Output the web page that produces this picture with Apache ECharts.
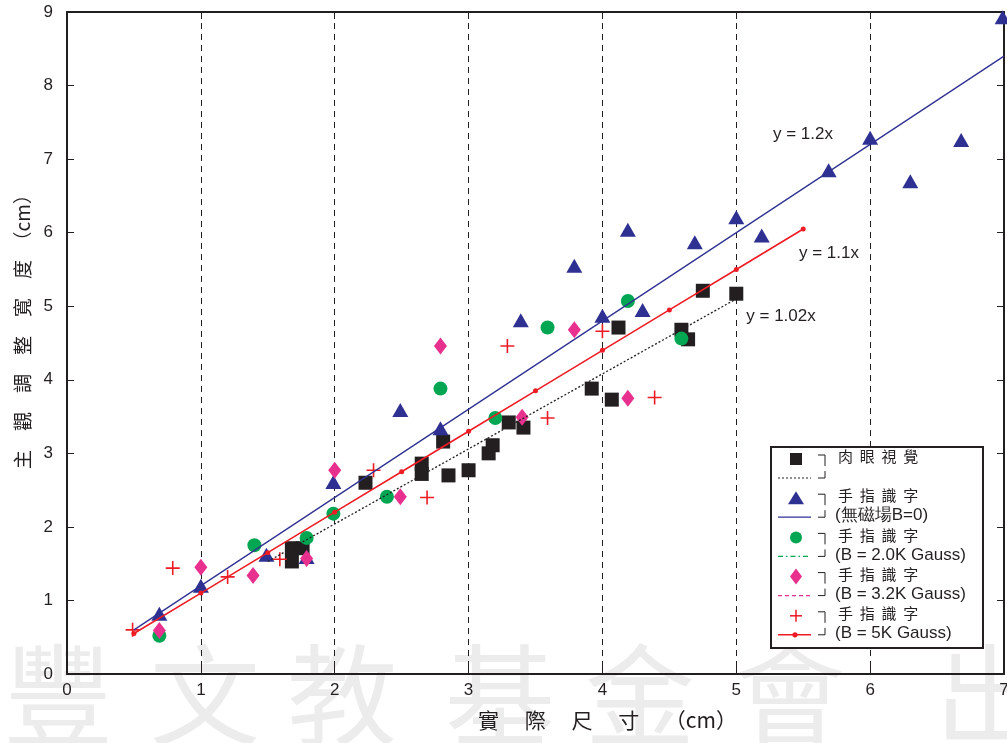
<!DOCTYPE html>
<html><head><meta charset="utf-8">
<script src="https://cdn.jsdelivr.net/npm/echarts@6/dist/echarts.min.js"></script>
<style>html,body{margin:0;padding:0;background:#fff;overflow:hidden}#c{width:1007px;height:743px}</style>
</head><body><div id="c"></div>
<script>
// ---- data (x = 實際尺寸 cm, y = 主觀調整寬度 cm) ----
const nakedEye = [[1.68,1.53],[1.68,1.71],[1.76,1.71],[2.23,2.60],[2.65,2.72],[2.65,2.86],[2.81,3.16],[2.85,2.70],[3.00,2.77],[3.15,3.00],[3.18,3.11],[3.30,3.42],[3.41,3.35],[3.92,3.88],[4.07,3.73],[4.12,4.71],[4.59,4.68],[4.64,4.55],[4.75,5.21],[5.00,5.17]];
const fingerB0 = [[0.69,0.82],[1.00,1.20],[1.49,1.62],[1.79,1.59],[1.99,2.61],[2.49,3.59],[2.79,3.34],[3.39,4.81],[3.79,5.55],[4.00,4.87],[4.19,6.04],[4.30,4.95],[4.69,5.87],[5.00,6.21],[5.19,5.96],[5.69,6.85],[6.00,7.29],[6.30,6.70],[6.68,7.26],[6.99,8.93]];
const fingerB20 = [[0.69,0.52],[1.40,1.75],[1.79,1.85],[1.99,2.18],[2.39,2.41],[2.79,3.88],[3.20,3.48],[3.59,4.71],[4.19,5.07],[4.59,4.56]];
const fingerB32 = [[0.69,0.59],[1.00,1.45],[1.39,1.34],[1.79,1.57],[2.00,2.77],[2.49,2.41],[2.79,4.46],[3.40,3.49],[3.79,4.68],[4.19,3.75]];
const fingerB5 = [[0.49,0.60],[0.79,1.44],[1.20,1.32],[1.59,1.56],[2.29,2.77],[2.69,2.40],[3.29,4.46],[3.59,3.48],[4.00,4.66],[4.39,3.76]];
const fit102 = [[1.5,1.53],[5.0,5.10]];
const fit12 = [[0.5,0.60],[7.0,8.40]];
const fit11 = [[0.5,0.55],[1.0,1.10],[1.5,1.65],[2.0,2.20],[2.5,2.75],[3.0,3.30],[3.5,3.85],[4.0,4.40],[4.5,4.95],[5.0,5.50],[5.5,6.05]];
const fitLabels = ['y = 1.2x','y = 1.1x','y = 1.02x'];
const legendLine1 = ['肉  眼  視  覺','手  指  識  字','手  指  識  字','手  指  識  字','手  指  識  字'];
const legendLine2 = ['','(無磁場B=0)','(B = 2.0K Gauss)','(B = 3.2K Gauss)','(B = 5K Gauss)'];
const xName = '實　 際　 尺　 寸　 （cm）';
const yName = '主　觀　調　整　寬　度　（cm）';
const watermark = ['豐','文','教','基','金','會','出'];

const C = {black:'#231f20', blue:'#2e3192', green:'#00a651', mag:'#e8308e', red:'#ed1c24'};
const plusPath = 'path://M0 6.2h14v1.6H0zM6.2 0h1.6v14H6.2z';
const latin = "'Liberation Sans', Arial, sans-serif";
const cjk = "'Noto Sans CJK TC', 'Noto Sans CJK SC', sans-serif";

const chart = echarts.init(document.getElementById('c'), null, {renderer:'canvas'});

// legend graphics
const g = [];
const wmX = [58,205,342,500,640,790,990];
watermark.forEach((ch,i)=>g.push({type:'text', z:-10, left:wmX[i]-55, top:640,
  style:{text:ch, font:"110px "+cjk, fill:'#ececec'}}));
g.push({type:'rect', z:100, shape:{x:771,y:447,width:212,height:201}, style:{fill:'#fff', stroke:C.black, lineWidth:2}});
for (let i=0;i<5;i++){
  const y1 = 459 + 39.2*i, y2 = 478 + 39.2*i;
  if (i===0) g.push({type:'rect', z:101, shape:{x:790,y:y1-6,width:12,height:12}, style:{fill:C.black}});
  if (i===1) g.push({type:'polygon', z:101, shape:{points:[[796,y1-7],[804,y1+6],[788,y1+6]]}, style:{fill:C.blue}});
  if (i===2) g.push({type:'circle', z:101, shape:{cx:796,cy:y1,r:6}, style:{fill:C.green}});
  if (i===3) g.push({type:'polygon', z:101, shape:{points:[[796,y1-8],[802,y1],[796,y1+8],[790,y1]]}, style:{fill:C.mag}});
  if (i===4) { g.push({type:'line', z:101, shape:{x1:790,y1:y1,x2:802,y2:y1}, style:{stroke:C.red,lineWidth:1.5}});
               g.push({type:'line', z:101, shape:{x1:796,y1:y1-6,x2:796,y2:y1+6}, style:{stroke:C.red,lineWidth:1.5}}); }
  const ls = [
    {stroke:C.black, lineWidth:1.2, lineDash:[2,2]},
    {stroke:C.blue, lineWidth:1.2},
    {stroke:C.green, lineWidth:1.2, lineDash:[5,3,1.5,3]},
    {stroke:C.mag, lineWidth:1.2, lineDash:[4,3]},
    {stroke:C.red, lineWidth:1.5}][i];
  g.push({type:'line', z:101, shape:{x1:778,y1:y2,x2:811,y2:y2}, style:ls});
  if (i===4) g.push({type:'circle', z:102, shape:{cx:795,cy:y2,r:2.6}, style:{fill:C.red}});
  g.push({type:'polyline', z:101, shape:{points:[[818,y1-4],[825,y1-4],[825,y1+7]]}, style:{stroke:C.black,lineWidth:1,fill:null}});
  g.push({type:'polyline', z:101, shape:{points:[[825,y2-7],[825,y2],[818,y2]]}, style:{stroke:C.black,lineWidth:1,fill:null}});
  g.push({type:'text', z:101, left:838, top:y1-10, style:{text:legendLine1[i], font:"15px "+cjk, fill:C.black}});
  if (legendLine2[i]) g.push({type:'text', z:101, left:835, top:y2-10, style:{text:legendLine2[i], font:"17px "+latin, fill:C.black}});
}
const eqPos = [[803,134],[829,253],[781,316]];
fitLabels.forEach((t,i)=>g.push({type:'text', z:50, x:eqPos[i][0], y:eqPos[i][1],
  style:{text:t, font:"17px "+latin, fill:C.black, textAlign:'center', textVerticalAlign:'middle'}}));

const axisCommon = {
  type:'value', axisLine:{show:true, onZero:false, lineStyle:{color:C.black, width:2}},
  axisTick:{show:true, inside:true, length:7, lineStyle:{color:C.black, width:1}}
};
const option = {
  animation:false,
  backgroundColor:'#fff',
  grid:{left:67, right:3, top:12, bottom:69, containLabel:false, outerBoundsMode:'none'},
  xAxis:[
    Object.assign({}, axisCommon, {min:0, max:7, interval:1, position:'bottom',
      name:xName, nameLocation:'middle', nameGap:36,
      nameTextStyle:{fontFamily:cjk, fontSize:21, color:C.black, padding:[0,0,0,144]},
      axisLabel:{margin:8, fontSize:17, color:C.black, fontFamily:"'Liberation Sans Narrow', 'Liberation Sans', Arial"},
      splitLine:{show:true, lineStyle:{color:C.black, width:1, type:[6,5]}}}),
    Object.assign({}, axisCommon, {min:0, max:7, interval:1, position:'top',
      axisLabel:{show:false}, splitLine:{show:false}})
  ],
  yAxis:[
    Object.assign({}, axisCommon, {min:0, max:9, interval:1, position:'left',
      name:yName, nameLocation:'middle', nameGap:27, nameRotate:90,
      nameTextStyle:{fontFamily:cjk, fontSize:19, color:C.black, padding:[0,0,0,32]},
      axisLabel:{margin:14, fontSize:17, color:C.black, fontFamily:latin},
      splitLine:{show:false}}),
    Object.assign({}, axisCommon, {min:0, max:9, interval:1, position:'right',
      axisLabel:{show:false}, splitLine:{show:false}})
  ],
  series:[
    {name:'肉眼視覺', type:'scatter', data:nakedEye, symbol:'rect', symbolSize:14, itemStyle:{color:C.black, opacity:1}, clip:false},
    {name:'手指識字 (無磁場B=0)', type:'scatter', data:fingerB0, symbol:'triangle', symbolSize:[16,14], itemStyle:{color:C.blue, opacity:1}, clip:false},
    {name:'手指識字 (B = 2.0K Gauss)', type:'scatter', data:fingerB20, symbol:'circle', symbolSize:14, itemStyle:{color:C.green, opacity:1}, clip:false},
    {name:'手指識字 (B = 3.2K Gauss)', type:'scatter', data:fingerB32, symbol:'diamond', symbolSize:[13,17], itemStyle:{color:C.mag, opacity:1}, clip:false},
    {name:'手指識字 (B = 5K Gauss)', type:'scatter', data:fingerB5, symbol:plusPath, symbolSize:14, itemStyle:{color:C.red, opacity:1}, clip:false},
    {name:'y = 1.02x', type:'line', data:fit102, showSymbol:false, symbol:'none', lineStyle:{color:C.black, width:1.3, type:[2,2]}},
    {name:'y = 1.2x', type:'line', data:fit12, showSymbol:false, symbol:'none', lineStyle:{color:C.blue, width:1.3}},
    {name:'y = 1.1x', type:'line', data:fit11, symbol:'circle', symbolSize:5, showSymbol:true, itemStyle:{color:C.red}, lineStyle:{color:C.red, width:1.6}}
  ],
  graphic:g
};
chart.setOption(option);
</script></body></html>
